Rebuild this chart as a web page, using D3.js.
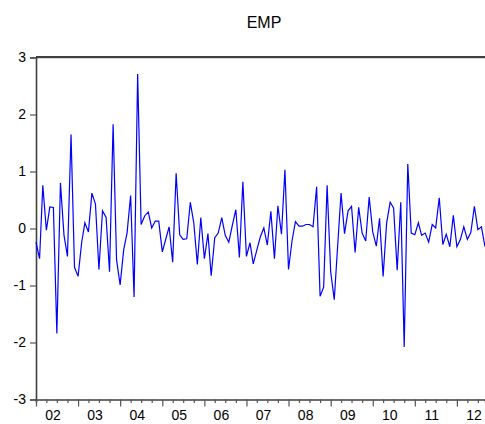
<!DOCTYPE html>
<html>
<head>
<meta charset="utf-8">
<script src="https://cdn.jsdelivr.net/npm/d3@7"></script>
<style>
  html, body { margin: 0; padding: 0; background: #fff; }
  svg { display: block; }
</style>
</head>
<body>
<svg id="chart" width="485" height="424"></svg>
<script>
// ---- data (monthly, starting 2002M01) ----
const title = "EMP";
const startDate = new Date(2002, 0, 1);
const empValues = [
  -0.24, -0.53, 0.76, -0.03, 0.38, 0.37, -1.84, 0.80, -0.12, -0.49, 1.65, -0.68,
  -0.84, -0.25, 0.10, -0.06, 0.62, 0.43, -0.72, 0.31, 0.20, -0.76, 1.83, -0.55,
  -0.99, -0.37, -0.08, 0.58, -1.20, 2.71, 0.07, 0.22, 0.29, 0.01, 0.13, 0.13,
  -0.41, -0.18, 0.03, -0.59, 0.97, -0.11, -0.19, -0.18, 0.46, 0.10, -0.63, 0.19,
  -0.53, -0.09, -0.83, -0.16, -0.08, 0.19, -0.12, -0.24, 0.06, 0.33, -0.51, 0.82,
  -0.49, -0.25, -0.62, -0.38, -0.15, 0.01, -0.29, 0.30, -0.53, 0.40, -0.10, 1.03,
  -0.72, -0.21, 0.12, 0.04, 0.04, 0.07, 0.07, 0.03, 0.73, -1.19, -1.03, 0.76,
  -0.76, -1.25, -0.35, 0.62, -0.09, 0.31, 0.39, -0.42, 0.37, -0.08, -0.22, 0.55,
  -0.06, -0.31, 0.18, -0.84, 0.09, 0.46, 0.36, -0.73, 0.46, -2.08, 1.13, -0.08,
  -0.11, 0.10, -0.12, -0.08, -0.24, 0.07, 0.01, 0.54, -0.28, -0.10, -0.32, 0.23,
  -0.32, -0.19, 0.03, -0.19, -0.07, 0.39, -0.02, 0.03, -0.32
];
const yTicks = [-3, -2, -1, 0, 1, 2, 3];
const yearLabels = ["02", "03", "04", "05", "06", "07", "08", "09", "10", "11", "12"];
const years = [2002, 2003, 2004, 2005, 2006, 2007, 2008, 2009, 2010, 2011, 2012];

// ---- layout ----
const plotLeft = 36, plotRight = 485, plotTop = 57.5, plotBottom = 399.5;
const svg = d3.select("#chart");
const font = "'Liberation Sans', Arial, sans-serif";

const data = empValues.map((v, i) => ({ date: d3.timeMonth.offset(startDate, i), value: v }));
const endDate = data[data.length - 1].date;

const x = d3.scaleTime().domain([startDate, endDate]).range([plotLeft, plotRight]);
const y = d3.scaleLinear().domain([-3, 3]).range([plotBottom, plotTop]);

// title
svg.append("text")
  .attr("x", 264).attr("y", 28)
  .attr("text-anchor", "middle")
  .attr("font-family", font).attr("font-size", 16)
  .attr("fill", "#000")
  .text(title);

// top frame line
svg.append("line")
  .attr("x1", plotLeft).attr("x2", plotRight)
  .attr("y1", plotTop - 0.5).attr("y2", plotTop - 0.5)
  .attr("stroke", "#000").attr("stroke-width", 1.3);
svg.append("line")
  .attr("x1", plotLeft).attr("x2", plotRight)
  .attr("y1", plotTop + 1).attr("y2", plotTop + 1)
  .attr("stroke", "#d8d8d8").attr("stroke-width", 1);

// y axis
const yAxis = d3.axisLeft(y).tickValues(yTicks).tickSize(6).tickPadding(4).tickFormat(d3.format("d"));
const gy = svg.append("g").attr("transform", `translate(${plotLeft},0)`).call(yAxis);
gy.select(".domain").attr("stroke", "#404040").attr("stroke-width", 1.6);
gy.selectAll(".tick line").attr("stroke", "#555").attr("stroke-width", 1.2);
gy.selectAll(".tick text")
  .attr("font-family", font).attr("font-size", 14).attr("fill", "#000")
  .text(d => d < 0 ? "-" + Math.abs(d) : d);

// x axis: minor quarterly ticks, major yearly ticks
const quarterTicks = d3.timeMonth.every(3).range(startDate, endDate);
const gx = svg.append("g").attr("transform", `translate(0,${plotBottom})`);
gx.call(d3.axisBottom(x).tickValues(quarterTicks).tickSize(3).tickFormat(""));
gx.select(".domain").attr("stroke", "#404040").attr("stroke-width", 1.6);
gx.selectAll(".tick line").attr("stroke", "#555").attr("stroke-width", 1.2)
  .attr("y2", d => d.getMonth() === 0 ? 7 : 3.5);

// year labels
svg.append("g").selectAll("text")
  .data(years)
  .join("text")
  .attr("x", (d) => x(new Date(d, 5, 15)) - 2)
  .attr("y", 420)
  .attr("text-anchor", "middle")
  .attr("font-family", font).attr("font-size", 14).attr("fill", "#000")
  .text((d, i) => yearLabels[i]);

// data line
const line = d3.line().x(d => x(d.date)).y(d => y(d.value));
svg.append("path")
  .datum(data)
  .attr("d", line)
  .attr("fill", "none")
  .attr("stroke", "#0000ff")
  .attr("stroke-width", 1.2)
  .attr("stroke-linejoin", "miter");
</script>
</body>
</html>
